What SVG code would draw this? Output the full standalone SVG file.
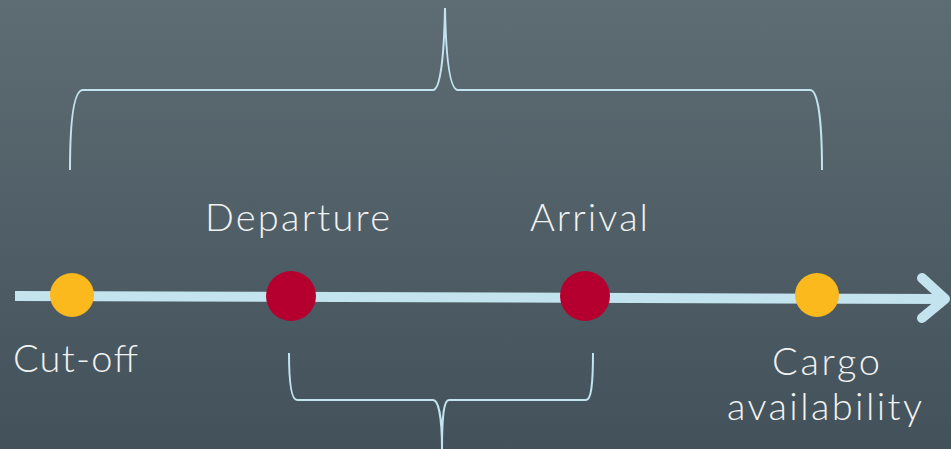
<svg xmlns="http://www.w3.org/2000/svg" width="951" height="449" viewBox="0 0 951 449">
<defs>
<linearGradient id="bg" x1="0" y1="0" x2="0" y2="1">
<stop offset="0" stop-color="#5e6d74"/>
<stop offset="1" stop-color="#43525a"/>
</linearGradient>
<style>
.brace{fill:none;stroke:#c3e3ee;stroke-width:2}
.lbl{font-family:Lato,"Open Sans","Liberation Sans",sans-serif;font-weight:300;font-size:38px;fill:#f2f2f2}
.yel{fill:#fbb91d}
.red{fill:#b5002f}
</style>
</defs>
<rect width="951" height="449" fill="url(#bg)"/>
<g id="connectors">
<path class="brace" d="M70,170 C70,120 74,90 83,90 L433,90 C440,90 444,60 445,8 C446,60 450,90 458,90 L810,90 C818,90 822,120 822,170"/>
<path class="brace" d="M289,353 C289,385 292,400 297,400 L433,400 C438,400 442,415 442,449 C442,415 444,400 449,400 L586,400 C591,400 593,385 593,353"/>
<path d="M15,296 L945,299" stroke="#c3e3ee" stroke-width="10" fill="none"/>
<path d="M922,278 L945,299 L922,318" stroke="#c3e3ee" stroke-width="10" fill="none" stroke-linecap="round" stroke-linejoin="round"/>
</g>
<g id="cutoff"><circle class="yel" cx="72" cy="295" r="22"/><text class="lbl" x="13" y="372" textLength="125">Cut-off</text></g>
<g id="departure"><circle class="red" cx="291" cy="296" r="25"/><text class="lbl" x="205" y="231" textLength="185">Departure</text></g>
<g id="arrival"><circle class="red" cx="585" cy="296" r="25"/><text class="lbl" x="530" y="231" textLength="118">Arrival</text></g>
<g id="cargo"><circle class="yel" cx="817" cy="295" r="22"/><text class="lbl" x="772" y="375" textLength="108">Cargo</text><text class="lbl" x="727" y="420" textLength="195">availability</text></g>
</svg>
